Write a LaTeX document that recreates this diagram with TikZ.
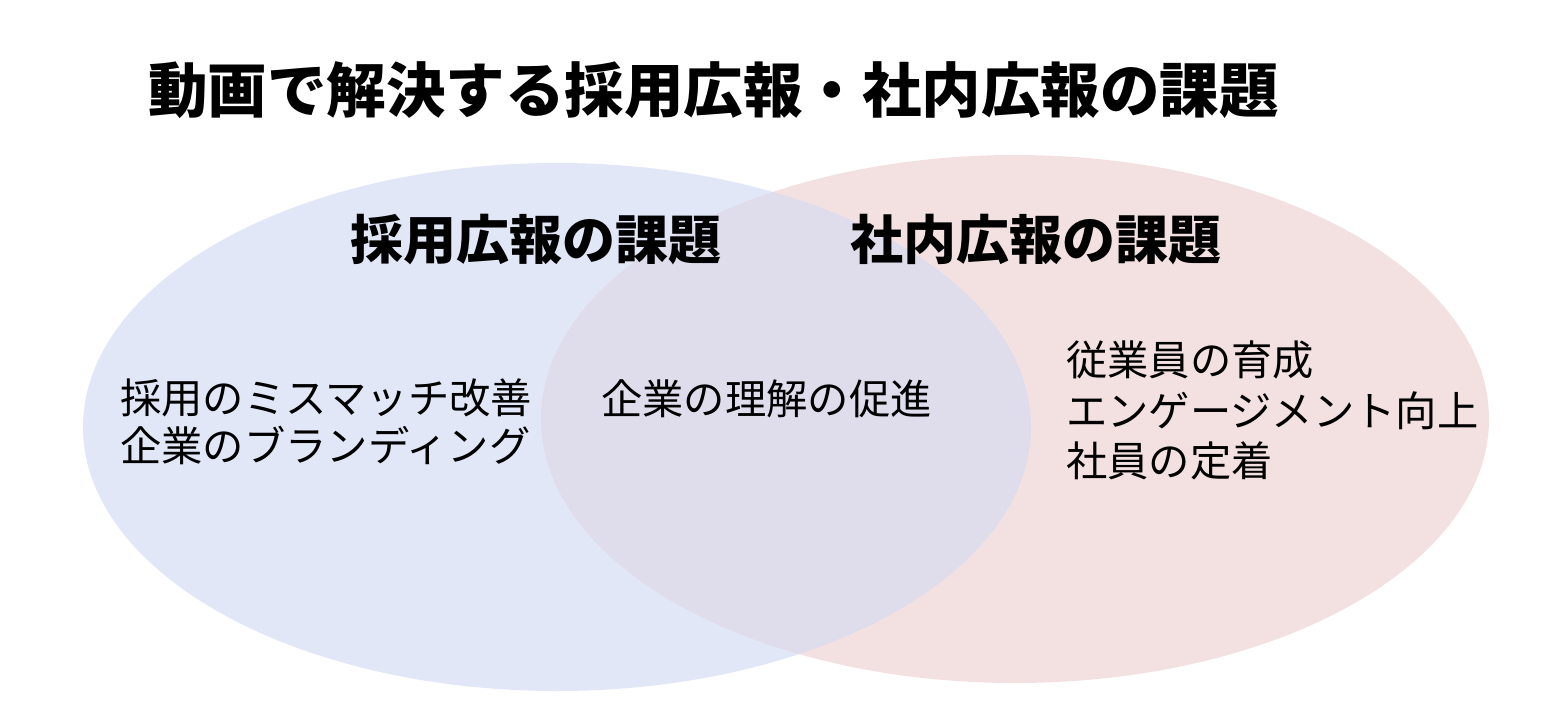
\documentclass[tikz,border=0pt]{standalone}
\usepackage{fontspec}
\setmainfont{Noto Sans CJK JP}
\newfontfamily\jpbold{Noto Sans CJK JP}[FakeBold=0]
\definecolor{bluefill}{HTML}{E1E7F7}
\definecolor{pinkfill}{HTML}{F3E1E2}
\definecolor{overlapfill}{HTML}{DFDDEC}
\begin{document}
\begin{tikzpicture}[x=1pt,y=-1pt,
  titletext/.style={inner sep=0pt,anchor=west,font=\fontsize{59.5}{60}\selectfont\bfseries},
  headtext/.style={inner sep=0pt,anchor=west,font=\fontsize{53}{54}\selectfont\bfseries},
  bodytext/.style={inner sep=0pt,anchor=west,font=\fontsize{41.3}{42}\selectfont}]
\useasboundingbox (0,0) rectangle (1548,724);
\fill[white] (0,0) rectangle (1548,724);
\fill[bluefill] (557,427) ellipse [x radius=474, y radius=264];
\fill[pinkfill] (1015,419) ellipse [x radius=474, y radius=264];
\begin{scope}
  \clip (557,427) ellipse [x radius=474, y radius=264];
  \fill[overlapfill] (1015,419) ellipse [x radius=474, y radius=264];
\end{scope}
\node[titletext] (title) at (148,90) {動画で解決する採用広報・社内広報の課題};
\node[headtext] (hleft) at (350,240) {採用広報の課題};
\node[headtext] (hright) at (850,240) {社内広報の課題};
\node[bodytext] (l1) at (120,398) {採用のミスマッチ改善};
\node[bodytext] (l2) at (120,445) {企業のブランディング};
\node[bodytext] (m1) at (601,399) {企業の理解の促進};
\node[bodytext] (r1) at (1066,360) {従業員の育成};
\node[bodytext] (r2) at (1066,411) {エンゲージメント向上};
\node[bodytext] (r3) at (1066,461) {社員の定着};
\end{tikzpicture}
\end{document}
